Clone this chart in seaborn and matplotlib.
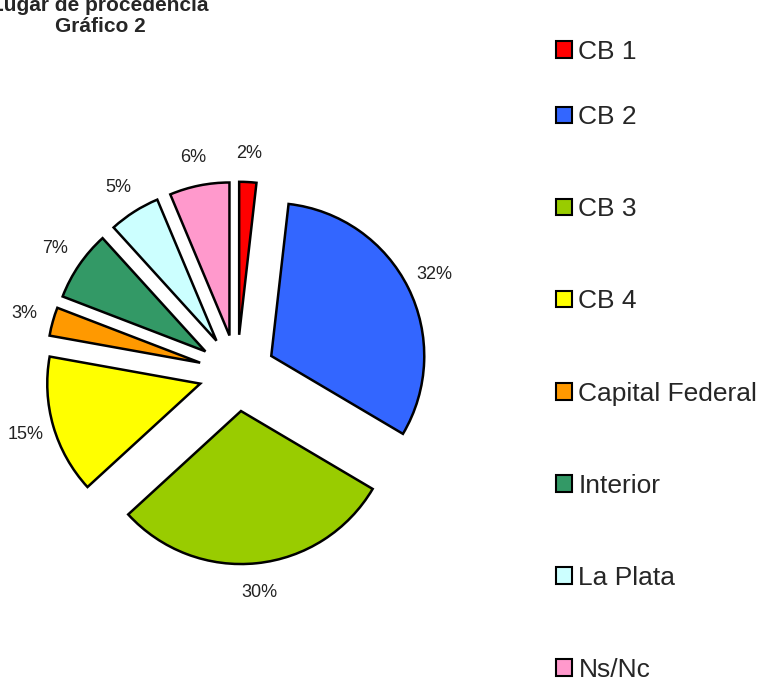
import numpy as np
import seaborn as sns
import matplotlib.pyplot as plt
from matplotlib.patches import Patch

# Data (percent of responses)
labels = ["CB 1", "CB 2", "CB 3", "CB 4", "Capital Federal", "Interior", "La Plata", "Ns/Nc"]
values = [1.8, 31.6, 29.6, 14.6, 3.0, 7.4, 5.4, 6.3]
colors = ["#FF0000", "#3366FF", "#99CC00", "#FFFF00", "#FF9900", "#339966", "#CCFFFF", "#FF99CC"]

sns.set_style("white")
plt.rcParams["font.family"] = ["Liberation Sans", "DejaVu Sans"]

fig = plt.figure(figsize=(7.62, 6.8), dpi=100)
# pie centre at about (237, 373) px, radius 153 px
ax = fig.add_axes([7.5 / 762, 77.5 / 680, 459 / 762, 459 / 680])

wedges, texts, autotexts = ax.pie(
    values,
    colors=colors,
    startangle=90,
    counterclock=False,
    explode=[0.25] * len(values),
    autopct="%1.0f%%",
    pctdistance=1.19,
    wedgeprops=dict(edgecolor="black", linewidth=1.8),
    textprops=dict(fontsize=13, color="#222222"),
)
ax.set_xlim(-1.5, 1.5)
ax.set_ylim(-1.5, 1.5)
ax.set_aspect("equal")
ax.axis("off")

fig.text(100 / 762, 1 - 16 / 680, "Lugar de procedencia\nGráfico 2",
         ha="center", va="center", fontsize=15, fontweight="bold",
         linespacing=1.15)

handles = [Patch(facecolor=c, edgecolor="black", linewidth=1.5) for c in colors]
leg_kw = dict(frameon=False, fontsize=19, handlelength=0.6, handleheight=0.6,
              handletextpad=0.25, borderpad=0, borderaxespad=0, labelspacing=2.58)
fig.legend(handles[:1], labels[:1], loc="center left",
           bbox_to_anchor=(556 / 762, 1 - 52 / 680), **leg_kw)
fig.legend(handles[1:], labels[1:], loc="center left",
           bbox_to_anchor=(556 / 762, 1 - 393.5 / 680), **leg_kw)

plt.savefig("out.png", dpi=100)
